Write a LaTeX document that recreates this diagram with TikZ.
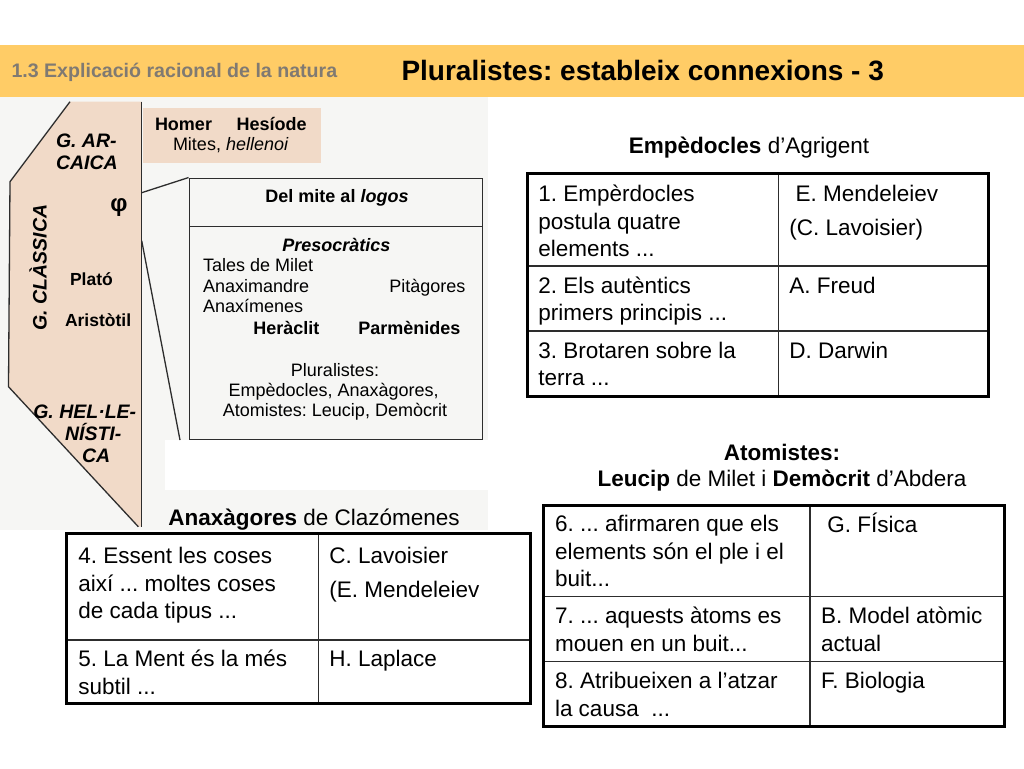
\documentclass[tikz,border=0pt]{standalone}
\usepackage{fontspec}
\setmainfont{Liberation Sans}
\frenchspacing
\definecolor{band}{RGB}{255,204,102}
\definecolor{beige}{RGB}{241,218,200}
\definecolor{subgray}{RGB}{128,122,114}
\definecolor{imgbg}{RGB}{246,246,244}
\definecolor{ink}{RGB}{45,45,45}
\newcommand{\glabfont}{\bfseries\itshape\fontsize{19.5}{23}\selectfont}
\begin{document}
\frenchspacing
\begin{tikzpicture}[x=1pt,y=-1pt,
  txt/.style={inner sep=0pt, outer sep=0pt},
  bl/.style={txt, anchor=base west},
  bc/.style={txt, anchor=base},
  glab/.style={bl, font=\glabfont},
  imgb/.style={bl, font=\bfseries\fontsize{17.5}{21}\selectfont},
  boxt/.style={font=\fontsize{18}{21}\selectfont},
  cell/.style={txt, anchor=north west, align=left, font=\fontsize{22.5}{27.4}\selectfont},
  ttl/.style={bc, font=\fontsize{22.5}{27}\selectfont},
  inner/.style={line width=1.5pt, ink},
  outer/.style={line width=3pt, black},
  edge/.style={line width=1.3pt, ink}]
\useasboundingbox (0,0) rectangle (1024,768);
\fill[white] (0,0) rectangle (1024,768);
% header band
\fill[band] (0,45) rectangle (1024,97);
\node[bl, text=subgray, font=\bfseries\fontsize{19.6}{23}\selectfont] (sub) at (11.5,77.3) {1.3 Explicació racional de la natura};
\node[bl, font=\bfseries\fontsize{28}{33}\selectfont] (title) at (401.5,80) {Pluralistes: estableix connexions - 3};
% left image
\fill[imgbg] (0,97) rectangle (488,530);
\fill[beige] (70,101.7) -- (141.7,101.7) -- (141.7,526.7) -- (138.3,526.7) -- (8.5,386.7) -- (10,181.7) -- cycle;
\draw[edge] (70,101.7) -- (10,181.7) -- (8.5,386.7) -- (138.3,526.7);
\draw[edge, line width=1.5pt] (141.7,101.7) -- (141.7,526.7);
\fill[beige] (143.3,108.3) rectangle (320.7,163.3);
\fill[white] (165,440) rectangle (488,490);
\node[draw=ink, line width=1.5pt, minimum width=293.4pt, minimum height=261pt, inner sep=0pt] (box) at (336,308.8) {};
\draw[edge, line width=1.5pt] (189.3,226.7) -- (482.7,226.7);
\coordinate (p1) at (141.7,192.7);
\coordinate (p2) at (141.7,240.7);
\coordinate (q2) at (180,440);
\draw[edge] (p1) -- (box.north west);
\draw[edge] (p2) -- (q2);
% left image labels
\node[bl, font=\bfseries\fontsize{18}{21}\selectfont] (homer) at (155,130) {Homer};
\node[bl, font=\bfseries\fontsize{18}{21}\selectfont] (hesiode) at (236.7,130) {Hesíode};
\node[bl, font=\fontsize{18}{21}\selectfont] (mites) at (173,150) {Mites, \textit{hellenoi}};
\node[glab] (garc1) at (56,147.3) {G. AR-};
\node[glab] (garc2) at (56,169) {CAICA};
\node[txt, font=\bfseries\fontsize{24}{28}\selectfont] (phi) at (119,208) {φ};
\node[bc, rotate=90, font=\glabfont] (gcla) at (46.7,267.5) {G. CLÀSSICA};
\node[imgb] (plato) at (70,285) {Plató};
\node[imgb] (arist) at (65,326) {Aristòtil};
\node[glab] (ghel1) at (33.3,418.3) {G. HEL·LE-};
\node[glab] (ghel2) at (65,440) {NÍSTI-};
\node[glab] (ghel3) at (82,462.7) {CA};
% box texts
\node[bc, boxt] (mite) at (337,202.3) {\bfseries Del mite al \textit{logos}};
\node[bc, boxt] (preso) at (336.3,251) {\bfseries\itshape Presocràtics};
\node[bl, boxt] (tales) at (203,271.7) {Tales de Milet};
\node[bl, boxt] (anaxd) at (203,292.7) {Anaximandre};
\node[bl, boxt] (pitag) at (389.3,292.7) {Pitàgores};
\node[bl, boxt] (anaxm) at (203,312.7) {Anaxímenes};
\node[bl, boxt] (heracl) at (253.3,334.3) {\bfseries Heràclit};
\node[bl, boxt] (parmen) at (358.3,334.3) {\bfseries Parmènides};
\node[bc, boxt] (plur1) at (335,376) {Pluralistes:};
\node[bc, boxt] (plur2) at (333.7,396.7) {Empèdocles, Anaxàgores,};
\node[bc, boxt] (plur3) at (335,416.7) {Atomistes: Leucip, Demòcrit};
% table 1: Empedocles
\node[ttl] (t1title) at (749,153.3) {\textbf{Empèdocles} d’Agrigent};
\draw[inner] (778.3,173.3) -- (778.3,396.7);
\draw[inner] (527.3,266) -- (988.3,266);
\draw[inner] (527.3,331) -- (988.3,331);
\draw[outer] (527.3,173.3) rectangle (988.3,396.7);
\node[cell] (c11) at (538.3,182.8) {\strut 1. Empèrdocles\\postula quatre\\elements ...};
\node[cell] (c12) at (789.3,182.8) {\strut\ E. Mendeleiev\\[6.6pt](C. Lavoisier)};
\node[cell] (c21) at (538.3,274.1) {\strut 2. Els autèntics\\primers principis ...};
\node[cell] (c22) at (789.3,274.1) {\strut A. Freud};
\node[cell] (c31) at (538.3,339.1) {\strut 3. Brotaren sobre la\\terra ...};
\node[cell] (c32) at (789.3,339.1) {\strut D. Darwin};
% table 2: Atomistes
\node[ttl] (t2title) at (782,460) {\textbf{Atomistes:}};
\node[ttl] (t2sub) at (782,486.7) {\textbf{Leucip} de Milet i \textbf{Demòcrit} d’Abdera};
\draw[inner] (810,505) -- (810,726.7);
\draw[inner] (543.3,596.7) -- (1004,596.7);
\draw[inner] (543.3,661.7) -- (1004,661.7);
\draw[outer] (543.3,505) rectangle (1004,726.7);
\node[cell] (d11) at (555,512.5) {\strut 6. ... afirmaren que els\\elements són el ple i el\\buit...};
\node[cell] (d12) at (821,512.5) {\strut\ G. FÍsica};
\node[cell] (d21) at (555,604.8) {\strut 7. ... aquests àtoms es\\mouen en un buit...};
\node[cell] (d22) at (821,604.8) {\strut B. Model atòmic\\actual};
\node[cell] (d31) at (555,669.8) {\strut 8. Atribueixen a l’atzar\\la causa\ \ ...};
\node[cell] (d32) at (821,669.8) {\strut F. Biologia};
% table 3: Anaxagores
\node[ttl] (t3title) at (314,525) {\textbf{Anaxàgores} de Clazómenes};
\draw[inner] (318.3,533.3) -- (318.3,703.3);
\draw[inner] (66,640) -- (530,640);
\draw[outer] (66,533.3) rectangle (530,703.3);
\node[cell] (e11) at (78.3,544.8) {\strut 4. Essent les coses\\així ... moltes coses\\de cada tipus ...};
\node[cell] (e12) at (329.3,544.8) {\strut C. Lavoisier\\[5.9pt](E. Mendeleiev};
\node[cell] (e21) at (78.3,647.5) {\strut 5. La Ment és la més\\subtil ...};
\node[cell] (e22) at (329.3,647.5) {\strut H. Laplace};
\end{tikzpicture}
\end{document}
